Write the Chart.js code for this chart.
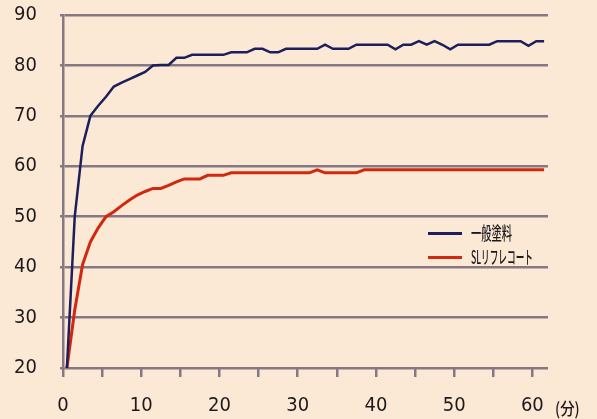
<!DOCTYPE html>
<html>
<head>
<meta charset="utf-8">
<script src="https://cdn.jsdelivr.net/npm/chart.js@4/dist/chart.umd.min.js"></script>
<style>
  body { margin: 0; background: #fbe9d5; }
  #wrap { position: relative; width: 597px; height: 419px; background: #fbe9d5; }
  .lbl { position: absolute; white-space: nowrap; color: #1e1a1c;
         font-family: "Noto Sans CJK JP", "Noto Sans", sans-serif;
         transform-origin: left center; }
  .swatch { position: absolute; height: 3px; width: 34px; }
</style>
</head>
<body>
<div id="wrap">
  <canvas id="c" width="597" height="419"></canvas>
  <div id="legend"></div>
  <div class="lbl" id="unit" style="left:555px; top:395px; font-size:17px; font-weight:500; transform:scaleX(0.85);"></div>
</div>
<script>
// minutes: readings taken at the middle of each one-minute interval
const minutes = Array.from({length: 62}, (_, i) => i + 0.5);

const seriesNames = ["一般塗料", "SLリフレコート"];
const seriesColors = ["#1c1f5c", "#d2280f"];

const normalPaint = [
  20, 50, 64, 70, 72, 73.8, 75.8, 76.6, 77.3, 78,
  78.7, 80, 80.1, 80.1, 81.5, 81.5, 82.1, 82.1, 82.1, 82.1,
  82.1, 82.6, 82.6, 82.6, 83.3, 83.3, 82.6, 82.6, 83.3, 83.3,
  83.3, 83.3, 83.3, 84.1, 83.3, 83.3, 83.3, 84.1, 84.1, 84.1,
  84.1, 84.1, 83.2, 84.1, 84.1, 84.8, 84.1, 84.8, 84.1, 83.2,
  84.1, 84.1, 84.1, 84.1, 84.1, 84.8, 84.8, 84.8, 84.8, 83.9,
  84.8, 84.8
];

const refleCoat = [
  20, 31.5, 40.5, 45, 47.8, 50, 51, 52.2, 53.3, 54.3,
  55, 55.6, 55.6, 56.2, 56.9, 57.5, 57.5, 57.5, 58.2, 58.2,
  58.2, 58.7, 58.7, 58.7, 58.7, 58.7, 58.7, 58.7, 58.7, 58.7,
  58.7, 58.7, 59.3, 58.7, 58.7, 58.7, 58.7, 58.7, 59.3, 59.3,
  59.3, 59.3, 59.3, 59.3, 59.3, 59.3, 59.3, 59.3, 59.3, 59.3,
  59.3, 59.3, 59.3, 59.3, 59.3, 59.3, 59.3, 59.3, 59.3, 59.3,
  59.3, 59.3
];

const yTicks = [20, 30, 40, 50, 60, 70, 80, 90];
const xTickMarks = [0, 5, 10, 15, 20, 25, 30, 35, 40, 45, 50, 55, 60];
const xTickLabels = [0, 10, 20, 30, 40, 50, 60];
const unitLabel = "(分)";

const gridColor = "#857884";
const tickFont = { family: "'Liberation Sans Narrow', 'DejaVu Sans Condensed', sans-serif", size: 20 };

const allSeries = [normalPaint, refleCoat];

new Chart(document.getElementById("c"), {
  type: "line",
  data: {
    datasets: allSeries.map((vals, k) => ({
      label: seriesNames[k],
      data: vals.map((v, i) => ({x: minutes[i], y: v})),
      borderColor: seriesColors[k],
      borderWidth: k === 0 ? 2.5 : 3,
      pointRadius: 0,
      tension: 0,
      fill: false
    }))
  },
  options: {
    responsive: false,
    animation: false,
    layout: { padding: { top: 15, right: 49, left: 0, bottom: 0 } },
    plugins: { legend: { display: false }, tooltip: { enabled: false } },
    scales: {
      x: {
        type: "linear",
        min: 0,
        max: 62,
        afterFit: s => { s.height = 51; s.paddingLeft = 0; s.paddingRight = 0; },
        afterBuildTicks: s => { s.ticks = xTickMarks.map(v => ({value: v})); },
        ticks: {
          autoSkip: false,
          maxRotation: 0,
          padding: 17,
          color: "#1e1a1c",
          font: tickFont,
          callback: v => xTickLabels.includes(v) ? String(v) : ""
        },
        grid: { drawOnChartArea: false, drawTicks: true, tickLength: 9, color: gridColor, lineWidth: 2.5 },
        border: { display: false }
      },
      y: {
        min: yTicks[0],
        max: yTicks[yTicks.length - 1],
        afterFit: s => { s.width = 63; s.paddingTop = 0; s.paddingBottom = 0; },
        afterBuildTicks: s => { s.ticks = yTicks.map(v => ({value: v})); },
        ticks: { padding: 23, color: "#1e1a1c", font: tickFont },
        grid: { color: gridColor, lineWidth: 2.5, tickLength: 3 },
        border: { display: true, color: gridColor, width: 2.5 }
      }
    }
  }
});

// legend inside the plot, upper right of the lower half
const legend = document.getElementById("legend");
seriesNames.forEach((name, k) => {
  const top = 233 + k * 24;
  const sw = document.createElement("div");
  sw.className = "swatch";
  sw.style.left = "428px";
  sw.style.top = (top - 1) + "px";
  sw.style.background = seriesColors[k];
  legend.appendChild(sw);
  const t = document.createElement("div");
  t.className = "lbl";
  t.textContent = name;
  t.style.left = "471px";
  t.style.top = (top - 14) + "px";
  t.style.fontSize = "18px";
  t.style.fontWeight = "500";
  t.style.transform = k === 0 ? "scaleX(0.57)" : "scaleX(0.48)";
  legend.appendChild(t);
});
document.getElementById("unit").textContent = unitLabel;
</script>
</body>
</html>
